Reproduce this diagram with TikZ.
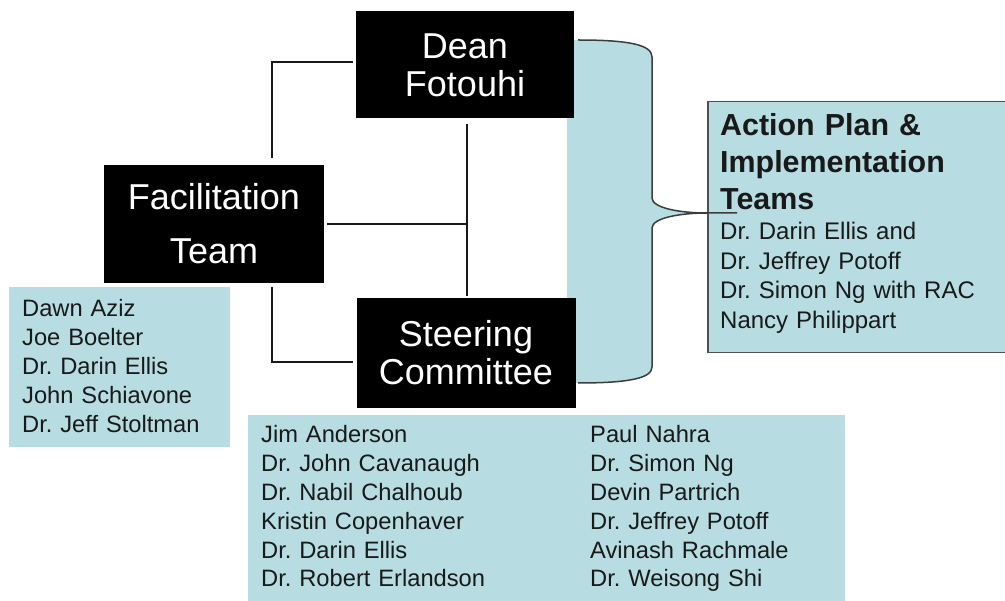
\documentclass[tikz,border=0pt]{standalone}
\usepackage{fontspec}
\setmainfont{Liberation Sans}
\frenchspacing
\definecolor{cyanbg}{RGB}{183,221,226}
\definecolor{ink}{RGB}{25,25,25}
\definecolor{frame}{RGB}{80,80,80}
\begin{document}
\begin{tikzpicture}[x=1pt,y=-1pt,
  blackbox/.style={fill=black,text=white,inner sep=0,align=center,font=\fontsize{36}{38}\selectfont},
  listbox/.style={fill=cyanbg,inner sep=0,anchor=north west},
  listtext/.style={anchor=base west,inner sep=0,text width=#1,align=left,text=ink,font=\fontsize{23.7}{28.8}\selectfont},
  conn/.style={draw=ink,line width=1.5pt},
  bracestyle/.style={draw=ink!85,line width=1.5pt}]
\useasboundingbox (0,0) rectangle (1005,601);

% cyan brace region
\coordinate (btop) at (578,40);
\coordinate (bbot) at (578,383);
\coordinate (btip) at (707,213);
\fill[cyanbg] (567,40) -- (btop) .. controls (630,40) and (652,45) .. (652,57) -- (652,198)
  .. controls (652,208) and (680,213) .. (btip)
  .. controls (680,213) and (652,218) .. (652,228) -- (652,367)
  .. controls (652,378) and (630,383) .. (bbot) -- (567,383) -- cycle;

% black boxes
\node[blackbox,minimum width=218,minimum height=107] (dean) at (465,65) {Dean\\Fotouhi};
\node[blackbox,minimum width=220,minimum height=118] (facil) at (214,224) {Facilitation\\[16pt]Team};
\node[blackbox,minimum width=219,minimum height=110] (steer) at (466,353) {Steering\\Committee};

% lists
\node[listbox,minimum width=221,minimum height=160] (facillist) at (9,287) {};
\node[listtext=210] (facilnames) at (22,317) {Dawn Aziz\\Joe Boelter\\Dr. Darin Ellis\\John Schiavone\\Dr. Jeff Stoltman};

\node[listbox,minimum width=597,minimum height=190] (steerlist) at (248,415) {};
\node[listtext=320] (steernamesA) at (261,443) {Jim Anderson\\Dr. John Cavanaugh\\Dr. Nabil Chalhoub\\Kristin Copenhaver\\Dr. Darin Ellis\\Dr. Robert Erlandson};
\node[listtext=250] (steernamesB) at (590,443) {Paul Nahra\\Dr. Simon Ng\\Devin Partrich\\Dr. Jeffrey Potoff\\Avinash Rachmale\\Dr. Weisong Shi};

% action box
\node[listbox,draw=frame,line width=1.5pt,minimum width=306,minimum height=251] (action) at (707,101) {};
\node[listtext=280,font=\fontsize{30.4}{37}\selectfont\bfseries] (actionhead) at (720,136) {Action Plan \&\\Implementation\\Teams};
\node[listtext=280,font=\fontsize{24}{29.4}\selectfont] (actionnames) at (720,240) {Dr. Darin Ellis and\\Dr. Jeffrey Potoff\\Dr. Simon Ng with RAC\\Nancy Philippart};

% connectors
\draw[conn] ([shift={(-3,-3)}]dean.west) -| ([shift={(58,-7)}]facil.north);
\draw[conn] ([shift={(58,4)}]facil.south) |- ([shift={(-3,9)}]steer.west);
\draw[conn] ([shift={(2,5)}]dean.south) -- ([shift={(1,-2)}]steer.north);
\coordinate (junction) at ([xshift=2]dean.south |- facil.east);
\draw[conn] ([xshift=3]facil.east) -- (junction);

% brace outline
\draw[bracestyle] (btop) .. controls (630,40) and (652,45) .. (652,57) -- (652,198)
  .. controls (652,208) and (680,213) .. (btip) -- (737,213);
\draw[bracestyle] (btip) .. controls (680,213) and (652,218) .. (652,228) -- (652,367)
  .. controls (652,378) and (630,383) .. (bbot);
\end{tikzpicture}
\end{document}
